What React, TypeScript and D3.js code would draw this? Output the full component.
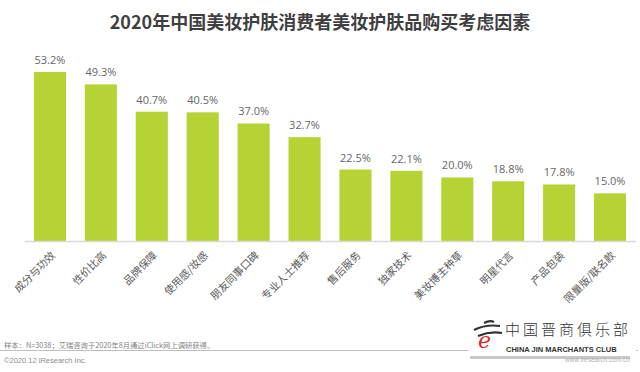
import React, { useEffect, useRef } from "react";
import * as d3 from "d3";

const categories = [
  "成分与功效", "性价比高", "品牌保障", "使用感/妆感", "朋友同事口碑", "专业人士推荐",
  "售后服务", "独家技术", "美妆博主种草", "明星代言", "产品包装", "限量版/联名款",
];
const values = [53.2, 49.3, 40.7, 40.5, 37.0, 32.7, 22.5, 22.1, 20.0, 18.8, 17.8, 15.0];

const title = "2020年中国美妆护肤消费者美妆护肤品购买考虑因素";
const note = "样本：N=3038；艾瑞咨询于2020年8月通过iClick网上调研获得。";
const copyright = "©2020.12 iResearch Inc.";

export default function App() {
  const svgRef = useRef<SVGSVGElement>(null);
  const width = 640;
  const height = 372;

  useEffect(() => {
    const svg = d3.select(svgRef.current);
    svg.selectAll("*").remove();
    const font = "'Noto Sans CJK SC', 'Noto Sans', sans-serif";

    const data = categories.map((c, i) => ({ name: c, value: values[i] }));

    const x = d3.scaleBand()
      .domain(categories)
      .range([24.5, 635.5])
      .paddingInner(0.37)
      .paddingOuter(0.185);

    const y = d3.scaleLinear()
      .domain([0, 53.2])
      .range([241, 72]);

    // title
    svg.append("text")
      .attr("x", 320)
      .attr("y", 29)
      .attr("text-anchor", "middle")
      .attr("font-family", font)
      .attr("font-size", 18)
      .attr("font-weight", "bold")
      .attr("fill", "#3f3f3f")
      .text(title);

    // bars
    svg.append("g")
      .attr("fill", "#b5d334")
      .selectAll("rect")
      .data(data)
      .join("rect")
      .attr("x", (d) => x(d.name)!)
      .attr("y", (d) => y(d.value))
      .attr("width", x.bandwidth())
      .attr("height", (d) => y(0) - y(d.value));

    // value labels
    svg.append("g")
      .selectAll("text")
      .data(data)
      .join("text")
      .attr("x", (d) => x(d.name)! + x.bandwidth() / 2)
      .attr("y", (d) => y(d.value) - 8)
      .attr("text-anchor", "middle")
      .attr("font-family", "'Open Sans', sans-serif")
      .attr("font-size", 11)
      .attr("fill", "#666")
      .text((d) => d.value.toFixed(1) + "%");

    // x-axis, rotated labels
    svg.append("g")
      .attr("transform", `translate(0,${y(0)})`)
      .call(d3.axisBottom(x).tickSize(0).tickSizeOuter(0))
      .call((g) => g.select(".domain").attr("stroke", "#d9d9d9").attr("stroke-width", 1.5))
      .call((g) => g.selectAll(".tick text")
        .attr("font-family", font)
        .attr("font-size", 10.5)
        .attr("fill", "#595959")
        .attr("text-anchor", "end")
        .attr("dy", null)
        .attr("y", 0)
        .attr("transform", "translate(6,15) rotate(-45)"));

    // footer
    svg.append("text")
      .attr("x", 4)
      .attr("y", 348)
      .attr("font-family", font)
      .attr("font-size", 7.3)
      .attr("fill", "#7f7f7f")
      .text(note);

    svg.append("line")
      .attr("x1", 0).attr("x2", 638)
      .attr("y1", 350.5).attr("y2", 350.5)
      .attr("stroke", "#bfbfbf")
      .attr("stroke-width", 1);

    svg.append("text")
      .attr("x", 4)
      .attr("y", 363)
      .attr("font-family", "'Liberation Sans', Arial, sans-serif")
      .attr("font-size", 7.5)
      .attr("fill", "#8c8c8c")
      .text(copyright);

    // watermark
    const wm = svg.append("g");
    wm.append("rect")
      .attr("x", 468).attr("y", 318)
      .attr("width", 168).attr("height", 37)
      .attr("fill", "#fff");
    wm.append("rect")
      .attr("x", 470).attr("y", 356)
      .attr("width", 160).attr("height", 3)
      .attr("fill", "#c8c8c8");
    wm.append("text")
      .attr("x", 478).attr("y", 348)
      .attr("font-family", "'DejaVu Serif', serif")
      .attr("font-style", "italic")
      .attr("font-size", 22)
      .attr("fill", "#e02828")
      .text("e");
    wm.append("path")
      .attr("d", "M474,330 Q486,324 500,326 M478,336 Q490,331 502,333 M484,323 Q490,320 494,322")
      .attr("stroke", "#333")
      .attr("stroke-width", 2.2)
      .attr("fill", "none");
    wm.append("text")
      .attr("x", 505).attr("y", 335)
      .attr("font-family", "'Noto Sans CJK SC', serif")
      .attr("font-size", 15)
      .attr("font-weight", 300)
      .attr("letter-spacing", 3)
      .attr("fill", "#333")
      .text("中国晋商俱乐部");
    wm.append("text")
      .attr("x", 506).attr("y", 352)
      .attr("font-family", "'Liberation Sans', sans-serif")
      .attr("font-size", 7.5)
      .attr("font-weight", "bold")
      .attr("fill", "#333")
      .text("CHINA JIN MARCHANTS CLUB");
    wm.append("text")
      .attr("x", 630).attr("y", 362)
      .attr("text-anchor", "end")
      .attr("font-family", "'Liberation Sans', sans-serif")
      .attr("font-size", 6.5)
      .attr("fill", "#b0b0b0")
      .text("www.iresearch.com.cn");
  }, []);

  return (
    <svg
      ref={svgRef}
      width={width}
      height={height}
      style={{ position: "absolute", left: 0, top: 0, background: "#fff" }}
    />
  );
}
